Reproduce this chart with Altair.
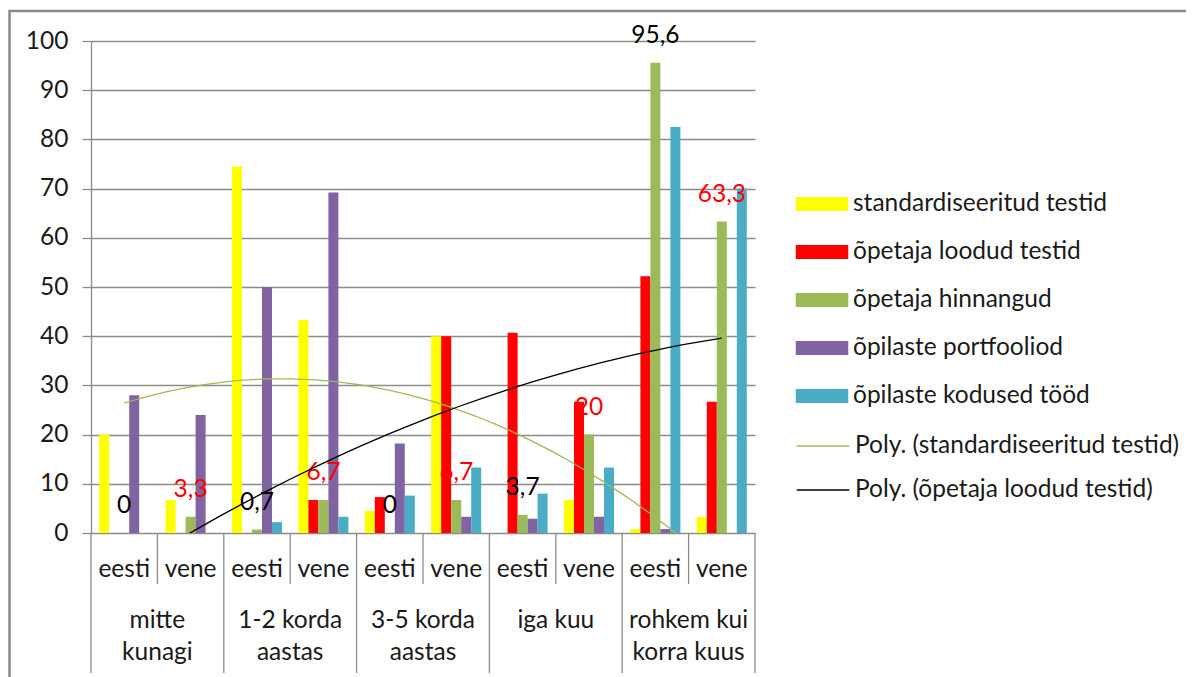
import altair as alt
import pandas as pd

# ---- data ----
groups = ["mitte\nkunagi", "1-2 korda\naastas", "3-5 korda\naastas", "iga kuu", "rohkem kui\nkorra kuus"]
langs = ["eesti", "vene"]
series = ["standardiseeritud testid", "õpetaja loodud testid", "õpetaja hinnangud",
          "õpilaste portfooliod", "õpilaste kodused tööd"]
colors = ["#FFFF00", "#FF0000", "#9BBB59", "#8064A2", "#4BACC6"]

standardiseeritud = [20, 6.7, 74.5, 43.3, 4.5, 40, 0, 6.7, 0.8, 3.3]
opetaja_testid = [0, 0, 0, 6.7, 7.3, 40, 40.7, 26.7, 52.2, 26.7]
opetaja_hinnangud = [0, 3.3, 0.7, 6.7, 0, 6.7, 3.7, 20, 95.6, 63.3]
portfooliod = [28, 24, 50, 69.2, 18.2, 3.3, 2.9, 3.3, 0.8, 0]
kodused = [0, 0, 2.2, 3.3, 7.6, 13.3, 8, 13.3, 82.5, 70]

trend_names = ["Poly. (standardiseeritud testid)", "Poly. (õpetaja loodud testid)"]
trend_colors = ["#9BBB59", "#000000"]

# ---- tables ----
values = [standardiseeritud, opetaja_testid, opetaja_hinnangud, portfooliod, kodused]
cats = []
cat_rows = []
for gi, g in enumerate(groups):
    for li, lang in enumerate(langs):
        idx = gi * 2 + li + 1
        cid = f"c{idx:02d}"
        cats.append(cid)
        cat_rows.append({"cat": cid, "idx": idx, "group": g, "lang": lang})
cat_df = pd.DataFrame(cat_rows)

rows = []
for si, s in enumerate(series):
    for r in cat_rows:
        rows.append({**r, "series": s, "value": values[si][r["idx"] - 1]})
df = pd.DataFrame(rows)

FONT = "Lato"
FS = 24.5
GRID = "#8c8c8c"
W, H = 664, 492

xscale = alt.Scale(domain=cats, paddingInner=0, paddingOuter=0)
x_enc = alt.X("cat:N", scale=xscale, axis=None)
xoff = alt.XOffset("series:N", scale=alt.Scale(domain=series, paddingInner=0, paddingOuter=0.82))
yscale = alt.Scale(domain=[0, 100], nice=False, zero=True)

bars = alt.Chart(df).mark_bar().encode(
    x=x_enc,
    xOffset=xoff,
    y=alt.Y("value:Q", scale=yscale,
            axis=alt.Axis(values=list(range(0, 101, 10)), title=None, grid=True,
                          gridColor=GRID, gridWidth=1.3, domainColor=GRID, domainWidth=1.3,
                          tickColor=GRID, tickWidth=1.3, tickSize=9,
                          labelFont=FONT, labelFontSize=FS, labelColor="#1a1a1a",
                          labelPadding=14)),
    color=alt.Color("series:N", scale=alt.Scale(domain=series, range=colors),
                    legend=alt.Legend(title=None, orient="none", legendX=713.5, legendY=145.5,
                                      symbolType="M-1.5,-0.4H1.5V0.4H-1.5Z", symbolSize=1225,
                                      symbolStrokeWidth=0, labelFont=FONT, labelFontSize=FS,
                                      labelColor="#1a1a1a", labelOffset=13.5, rowPadding=19,
                                      padding=0, labelLimit=500)),
)

labels = alt.Chart(df).transform_filter(
    alt.datum.series == series[2]
).transform_calculate(
    lbl="replace(toString(datum.value), '.', ',')"
).mark_text(dy=-27, font=FONT, fontSize=FS).encode(
    x=x_enc,
    xOffset=xoff,
    y=alt.Y("value:Q", scale=yscale),
    text="lbl:N",
    color=alt.condition(alt.datum.lang == "eesti", alt.value("#000000"), alt.value("#FF0000")),
)

sep_long = alt.Chart(cat_df).transform_filter(alt.datum.lang == "eesti").mark_rule(
    color=GRID, strokeWidth=1.3).encode(
    x=alt.X("cat:N", scale=xscale, axis=None, bandPosition=0),
    y=alt.value(H), y2=alt.value(H + 140))
sep_end = alt.Chart(cat_df).transform_filter(alt.datum.idx == 10).mark_rule(
    color=GRID, strokeWidth=1.3).encode(
    x=alt.X("cat:N", scale=xscale, axis=None, bandPosition=1),
    y=alt.value(H), y2=alt.value(H + 140))
sep_short = alt.Chart(cat_df).transform_filter(alt.datum.lang == "vene").mark_rule(
    color=GRID, strokeWidth=1.3).encode(
    x=alt.X("cat:N", scale=xscale, axis=None, bandPosition=0),
    y=alt.value(H), y2=alt.value(H + 51))

lang_text = alt.Chart(cat_df).mark_text(font=FONT, fontSize=FS, color="#1a1a1a",
                                        baseline="middle").encode(
    x=x_enc, y=alt.value(H + 37), text="lang:N")
group_text = alt.Chart(cat_df).transform_filter(alt.datum.lang == "eesti").mark_text(
    font=FONT, fontSize=FS, color="#1a1a1a", baseline="top", lineBreak="\n",
    lineHeight=32).encode(
    x=alt.X("cat:N", scale=xscale, axis=None, bandPosition=1),
    y=alt.value(H + 76), text="group:N")

main = alt.layer(bars, labels, sep_long, sep_end, sep_short, lang_text, group_text)

trend = alt.Chart(df).transform_filter(
    alt.FieldOneOfPredicate(field="series", oneOf=series[:2])
).transform_regression(
    "idx", "value", method="poly", order=2, groupby=["series"], extent=[1, 10]
).transform_calculate(
    tname="'Poly. (' + datum.series + ')'"
).mark_line(clip=True, strokeWidth=1.3).encode(
    x=alt.X("idx:Q", scale=alt.Scale(domain=[0.5, 10.5], nice=False, zero=False), axis=None),
    y=alt.Y("value:Q", scale=yscale),
    stroke=alt.Stroke("tname:N", scale=alt.Scale(domain=trend_names, range=trend_colors),
                      legend=alt.Legend(title=None, orient="none", legendX=713.5, legendY=386.5,
                                        symbolType="M-1.5,0H1.5", symbolSize=1225,
                                        symbolStrokeWidth=1.3, labelFont=FONT, labelFontSize=FS,
                                        labelColor="#1a1a1a", labelOffset=13.5, rowPadding=14,
                                        padding=0, labelLimit=500)),
)

border = alt.Chart(alt.Data(values=[{"a": 1}])).mark_rect(
    filled=False, stroke="#8a8a8a", strokeWidth=2.5).encode(
    x=alt.value(-81.5), x2=alt.value(1300), y=alt.value(-30), y2=alt.value(800))

chart = alt.layer(border, main, trend).resolve_scale(x="independent").properties(
    width=W, height=H,
    padding={"left": 83, "top": 33, "right": 431, "bottom": 144},
    autosize=alt.AutoSizeParams(type="none"),
).configure_view(strokeWidth=0)

chart.save("out.html", embed_options={"renderer": "svg", "actions": False})
